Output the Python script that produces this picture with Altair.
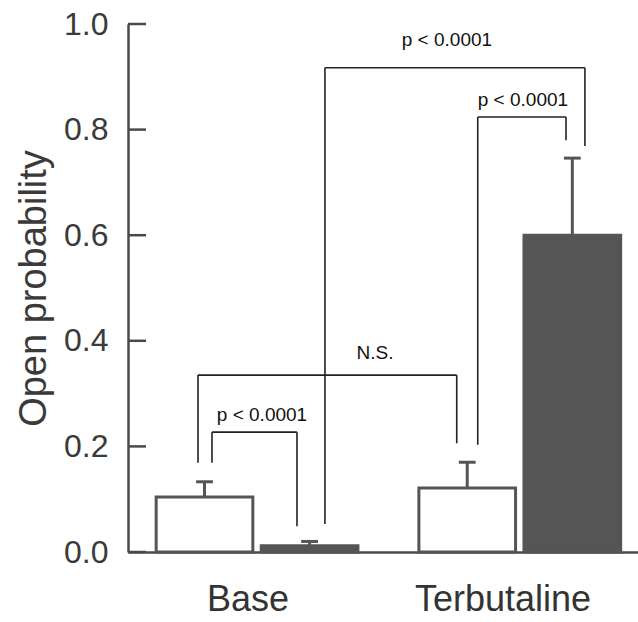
import altair as alt
import pandas as pd

# ---- data ----
groups = ["Base", "Base", "Terbutaline", "Terbutaline"]
conditions = ["Open", "Filled", "Open", "Filled"]
bar_pos = [0.0, 1.0, 2.5, 3.5]
means = [0.104, 0.012, 0.121, 0.600]
sems = [0.029, 0.008, 0.049, 0.146]

y_ticks = [0.0, 0.2, 0.4, 0.6, 0.8, 1.0]

group_labels = ["Base", "Terbutaline"]
group_label_pos = [0.414, 2.84]

# brackets: x1, x2, top, left-leg bottom, right-leg bottom
br_x1 = [0.071, -0.062, 1.146, 2.60]
br_x2 = [0.88, 2.40, 3.62, 3.44]
br_top = [0.227, 0.335, 0.917, 0.824]
br_bl = [0.169, 0.169, 0.053, 0.203]
br_br = [0.049, 0.206, 0.769, 0.780]
br_text = ["p < 0.0001", "N.S.", "p < 0.0001", "p < 0.0001"]
br_text_x = [0.547, 1.622, 2.307, 3.030]
br_text_y = [0.259, 0.377, 0.970, 0.856]

FONT = "Liberation Sans"
DARK = "#555555"
AXC = "#4a4a4a"

bars = pd.DataFrame({
    "group": groups, "cond": conditions, "pos": bar_pos,
    "mean": means, "sem": sems,
})
bars["left"] = bars["pos"] - 0.46
bars["right"] = bars["pos"] + 0.46
bars["top"] = bars["mean"] + bars["sem"]
bars["capl"] = bars["pos"] - 0.08
bars["capr"] = bars["pos"] + 0.08

brk = pd.DataFrame({"x1": br_x1, "x2": br_x2, "top": br_top,
                    "bl": br_bl, "br": br_br, "label": br_text,
                    "tx": br_text_x, "ty": br_text_y})
ticks = pd.DataFrame({"v": y_ticks})
glab = pd.DataFrame({"label": group_labels, "x": group_label_pos})

xs = alt.Scale(domain=[-0.728, 4.125], nice=False, zero=False)
ys = alt.Scale(domain=[0, 1], nice=False)

xax = alt.Axis(labels=False, ticks=False, title=None, grid=False,
               domainColor=AXC, domainWidth=2.5)
yax = alt.Axis(values=y_ticks, format=".1f", ticks=False, grid=False,
               title="Open probability", titleFont=FONT, titleFontSize=38,
               titleFontWeight="normal", titleColor="#3a3a3a",
               titlePadding=10,
               labelFont=FONT, labelFontSize=32, labelColor="#3a3a3a",
               labelPadding=20, domainColor=AXC, domainWidth=2.5)

base = alt.Chart(bars)

stems = base.mark_rule(color=DARK, strokeWidth=3).encode(
    x=alt.X("pos:Q", scale=xs, axis=xax),
    y=alt.Y("mean:Q", scale=ys, axis=yax),
    y2="top:Q",
)
caps = base.mark_rule(color=DARK, strokeWidth=3).encode(
    x=alt.X("capl:Q", scale=xs), x2="capr:Q",
    y=alt.Y("top:Q", scale=ys),
)
rects = base.mark_rect(stroke=DARK, strokeWidth=3).encode(
    x=alt.X("left:Q", scale=xs), x2="right:Q",
    y=alt.Y("mean:Q", scale=ys), y2=alt.datum(0),
    fill=alt.Fill("cond:N", scale=alt.Scale(domain=["Open", "Filled"],
                                             range=["white", DARK]),
                  legend=None),
)

tickmarks = alt.Chart(ticks).mark_rule(color=AXC, strokeWidth=2.5).encode(
    x=alt.value(0), x2=alt.value(18),
    y=alt.Y("v:Q", scale=ys),
)

bcol = "#222222"
bw = 1.6
bk = alt.Chart(brk)
leg_l = bk.mark_rule(color=bcol, strokeWidth=bw).encode(
    x=alt.X("x1:Q", scale=xs), y=alt.Y("bl:Q", scale=ys), y2="top:Q")
leg_r = bk.mark_rule(color=bcol, strokeWidth=bw).encode(
    x=alt.X("x2:Q", scale=xs), y=alt.Y("br:Q", scale=ys), y2="top:Q")
bar_top = bk.mark_rule(color=bcol, strokeWidth=bw).encode(
    x=alt.X("x1:Q", scale=xs), x2="x2:Q", y=alt.Y("top:Q", scale=ys))
btext = bk.mark_text(font=FONT, fontSize=19, color="#111111",
                     baseline="middle", align="center").encode(
    x=alt.X("tx:Q", scale=xs), y=alt.Y("ty:Q", scale=ys), text="label:N")

gl = alt.Chart(glab).mark_text(font=FONT, fontSize=36, color="#333333",
                               baseline="middle", align="center").encode(
    x=alt.X("x:Q", scale=xs), y=alt.value(576), text="label:N")

chart = alt.layer(
    stems, rects, caps, tickmarks, leg_l, leg_r, bar_top, btext, gl
).properties(
    width=510, height=528,
    background="white",
    autosize=alt.AutoSizeParams(type="none"),
    padding={"left": 128, "top": 24, "right": 0, "bottom": 70},
).configure_view(strokeWidth=0, strokeOpacity=0)

chart.save("out.html", embed_options={"renderer": "svg", "actions": False})
